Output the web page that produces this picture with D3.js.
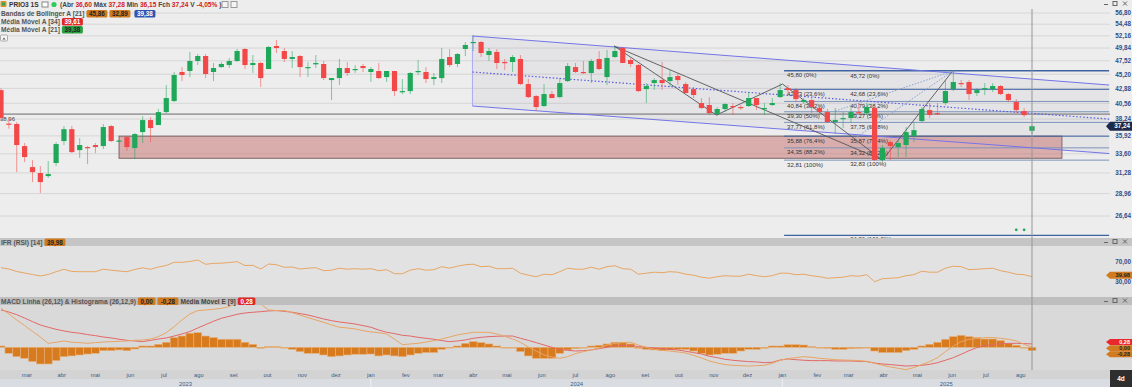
<!DOCTYPE html>
<html>
<head>
<meta charset="utf-8">
<script src="https://cdn.jsdelivr.net/npm/d3@7"></script>
<style>
body { margin: 0; background: #e6e6e6; }
svg { display: block; font-family: "Liberation Sans", Arial, sans-serif; }
</style>
</head>
<body>
<svg id="chart" width="1132" height="387"></svg>
<script>
// weekly candles PRIO3, Feb 2023 -> Aug 2025
const opens = [42.60,37.60,37.54,34.58,31.97,31.27,30.92,32.46,35.23,36.83, 34.06,34.45,34.71,34.58,37.26,35.23,35.75,34.32,36.43,38.10, 37.40,39.25,40.90,45.58,45.75,47.49,48.38,45.58,46.43,46.78, 47.49,49.66,46.78,47.14,46.09,50.22,49.29,47.85,48.38,46.26, 46.90,46.96,44.23,44.56,46.26,45.92,46.61,45.58,45.75,44.73, 45.75,42.30,42.45,45.58,45.58,44.40,44.56,48.20,46.96,49.66, 50.79,50.98,48.56,49.13,47.31,47.31,47.85,43.58,41.67,40.15, 41.98,41.51,44.06,46.43,45.58,45.41,47.85,44.73,48.20,49.85, 47.67,46.78,42.76,43.74,44.23,44.06,44.90,43.58,42.76,40.60, 40.30,38.96,39.70,40.15,40.00,40.15,41.36,39.70,40.30,41.51, 42.92,42.61,40.75,41.05,39.85,39.25,37.82,38.25,38.39,39.25, 39.10,39.85,32.82,35.10,34.45,34.71,35.89,37.96,39.55,39.10, 40.60,42.76,43.74,43.91,42.14,42.76,42.76,43.26,41.98,40.75, 39.40,36.60]
const highs = [42.90,38.40,37.82,34.97,32.82,32.09,32.70,35.10,37.26,37.26, 35.62,34.58,34.97,37.54,37.40,35.40,35.88,36.30,38.67,38.53, 39.70,43.42,45.58,46.43,49.13,48.74,48.74,47.14,47.31,48.03, 49.66,49.85,48.56,47.31,50.22,51.36,49.85,49.29,48.56,47.31, 48.56,47.49,44.56,47.85,47.31,46.78,46.96,46.43,47.14,45.75, 45.75,44.40,45.58,47.67,46.43,45.41,49.85,49.66,48.92,50.98, 52.33,51.17,49.85,49.66,47.85,48.56,48.56,44.40,41.83,43.58, 42.45,44.56,47.14,47.14,47.49,47.85,49.29,49.48,50.22,50.04, 48.03,46.96,43.74,44.56,47.31,45.92,45.24,43.91,43.10,41.36, 41.51,40.00,40.60,40.60,40.30,42.30,41.36,40.60,41.36,43.74, 43.42,42.92,41.36,41.36,40.00,39.70,39.85,39.25,40.00,40.60, 40.60,40.00,34.71,35.36,35.36,37.12,37.82,40.00,40.60,40.60, 44.23,45.72,44.23,44.23,42.92,43.74,43.74,43.42,42.14,41.20, 39.85,37.28]
const lows = [38.10,36.90,31.38,32.57,30.23,29.02,30.69,32.09,34.71,33.69, 33.07,32.33,33.69,34.19,35.10,35.10,33.94,32.94,34.97,35.10, 37.40,39.10,40.75,44.06,44.73,46.78,44.56,44.06,46.26,46.26, 47.31,46.09,45.41,43.10,46.09,48.92,47.31,46.26,44.73,44.73, 46.26,44.23,41.05,43.42,44.90,45.41,45.58,43.91,44.40,43.91, 41.67,41.98,41.98,45.07,43.74,43.42,43.74,46.43,46.43,48.38, 49.29,48.20,47.49,46.09,45.92,45.58,43.42,41.36,39.40,40.00, 41.36,41.36,43.91,45.41,45.24,43.74,45.92,43.42,48.03,47.14, 46.43,42.30,40.60,42.61,42.61,43.10,43.42,42.14,41.36,39.70, 38.82,38.67,39.25,38.82,39.55,40.00,39.55,38.82,40.15,41.36, 42.14,40.75,40.45,39.10,38.82,37.68,36.16,36.98,37.68,39.10, 38.82,32.70,32.57,32.82,33.19,33.19,35.10,37.82,38.39,38.82, 40.30,42.45,43.10,41.05,41.67,41.83,42.30,41.83,40.75,39.10, 38.53,36.15]
const closes = [38.40,37.50,34.71,33.19,31.38,30.23,31.15,34.84,36.83,33.81, 34.71,34.32,34.45,37.12,35.23,35.30,34.45,36.16,38.10,36.98, 39.25,41.36,45.07,45.07,47.49,48.38,45.24,46.26,46.96,47.49, 49.29,46.78,47.14,44.56,50.04,49.85,47.85,48.20,46.43,46.43, 47.14,44.56,44.56,46.26,45.41,46.09,46.26,46.09,44.56,45.75, 42.45,42.45,45.41,45.75,44.40,44.73,47.85,46.78,48.74,50.41, 50.98,48.92,49.29,47.14,47.14,48.20,43.58,41.51,40.00,41.98, 41.36,43.74,46.61,45.58,45.41,47.49,46.09,48.03,49.29,47.14, 46.96,42.45,43.26,44.23,43.74,44.73,44.23,42.14,41.83,39.85, 39.10,39.70,40.45,40.00,39.85,41.36,40.30,39.85,40.60,42.61, 42.61,41.20,41.05,40.00,39.25,37.82,38.10,38.39,39.25,39.10, 40.00,32.82,34.32,34.58,34.97,36.43,36.70,39.70,38.82,38.96, 42.45,43.91,43.58,41.98,42.61,42.92,43.26,41.98,41.05,39.55, 38.81,37.24]

const rsiValues = [58,55.4,50.4,47.4,44.4,41.4,44.4,50,54.8,50.4, 50,50,50,55,53,51.4,50,54.4,57.8,54.8, 59.4,62.4,68.8,68.8,70.4,73.4,64.8,66.8,67,68.4, 70,62.4,62.8,55.4,65.4,64,58.8,59.4,55.4,57, 58,52,53,57,55,56,55,56,52,54, 46,46,53,56,53,54,60,57,61,64, 65,60,61,56,56,57,47,43,40,45, 44,50,57,55,55,59,55,60,62,56, 55,45,47,49,48,50,49,45,43,39, 37,40,42,41,41,45,42,40,42,47, 47,44,45,42,40,37,38,39,42,41, 44,30,36,37,38,42,44,51,49,49, 57,61,60,54,55,56,57,52,49,45, 44,39.98]

const macdLine = [3.25,2.78,2.28,1.81,1.33,0.86,0.33,0.42,0.53,0.42, 0.39,0.33,0.39,0.44,0.47,0.50,0.53,0.58,0.61,0.69, 0.89,1.22,1.72,2.28,2.78,3.06,3.11,3.17,3.25,3.39, 3.67,4.17,4.08,3.61,3.11,3.06,3.06,2.89,2.69,2.47, 2.28,2.08,1.86,1.67,1.61,1.53,1.39,1.28,1.22,1.11, 0.67,0.22,0.28,0.33,0.44,0.56,0.69,0.86,1.03,1.14, 1.25,1.25,1.25,1.11,0.92,0.69,0.42,0.03,-0.31,-0.64, -0.81,-0.92,-0.78,-0.53,-0.36,-0.22,-0.06,0.19,0.33,0.39, 0.42,0.19,0.00,-0.17,-0.25,-0.31,-0.39,-0.47,-0.67,-0.89, -1.14,-1.31,-1.44,-1.50,-1.53,-1.56,-1.53,-1.50,-1.33,-1.08, -0.94,-0.86,-0.78,-0.83,-0.92,-0.97,-1.03,-1.06,-1.08,-1.11, -1.17,-1.33,-1.50,-1.64,-1.75,-1.86,-1.69,-1.44,-1.19,-0.86, -0.36,0.11,0.47,0.67,0.72,0.81,0.81,0.75,0.67,0.53, 0.25,0.00]
const macdSignal = [3.11,2.94,2.72,2.44,2.14,1.86,1.67,1.50,1.36,1.25, 1.17,1.06,0.97,0.86,0.78,0.67,0.58,0.53,0.47,0.58, 0.69,0.78,0.94,1.11,1.31,1.61,1.89,2.17,2.42,2.58, 2.75,2.86,2.92,2.97,3.03,3.06,3.00,2.92,2.81,2.69, 2.53,2.36,2.22,2.11,2.03,1.94,1.81,1.67,1.44,1.25, 1.14,1.00,0.94,0.83,0.75,0.67,0.56,0.47,0.53,0.61, 0.75,0.83,0.89,0.92,0.94,0.94,0.75,0.58,0.39,0.19, 0.00,-0.19,-0.25,-0.31,-0.28,-0.22,-0.11,0.00,0.11,0.17, 0.14,0.06,0.00,-0.06,-0.11,-0.17,-0.22,-0.33,-0.44,-0.56, -0.75,-0.86,-1.00,-1.08,-1.14,-1.19,-1.22,-1.28,-1.25,-1.06, -0.97,-1.03,-1.08,-1.11,-1.11,-1.11,-1.14,-1.14,-1.14,-1.17, -1.19,-1.31,-1.39,-1.44,-1.50,-1.56,-1.53,-1.50,-1.42,-1.28, -1.08,-0.86,-0.58,-0.28,-0.03,0.14,0.22,0.31,0.33,0.33, 0.31,0.28]
const macdHist = [0.11,-0.50,-0.78,-0.92,-1.19,-1.39,-1.39,-1.11,-0.78,-0.72, -0.64,-0.56,-0.50,-0.28,-0.28,-0.22,-0.28,-0.14,0.11,0.11, 0.25,0.42,0.81,0.94,1.17,1.22,0.94,0.81,0.67,0.67, 0.67,0.42,0.25,-0.08,0.06,0.06,0.00,-0.17,-0.36,-0.50, -0.50,-0.64,-0.78,-0.72,-0.64,-0.58,-0.58,-0.56,-0.72,-0.64, -0.72,-0.78,-0.64,-0.50,-0.44,-0.44,-0.17,-0.06,0.11,0.33, 0.47,0.39,0.28,0.11,0.00,-0.03,-0.36,-0.72,-0.92,-0.92, -0.92,-0.50,-0.22,-0.11,0.00,0.11,0.17,0.28,0.42,0.42, 0.28,-0.08,-0.17,-0.22,-0.28,-0.22,-0.17,-0.17,-0.31,-0.50, -0.64,-0.58,-0.50,-0.50,-0.31,-0.17,-0.17,-0.08,0.11,0.11, 0.22,0.22,0.19,0.06,0.00,-0.08,-0.17,-0.17,-0.11,-0.08, 0.00,-0.31,-0.44,-0.44,-0.44,-0.28,-0.17,0.11,0.25,0.42, 0.67,0.89,1.00,0.89,0.81,0.69,0.69,0.56,0.33,0.17, -0.06,-0.28]

const priceTicks = [56.80,54.48,52.16,49.84,47.52,45.20,42.88,40.56,38.24,35.92,33.60,31.28,28.96,26.64]
const monthNames = ["jan","fev","mar","abr","mai","jun","jul","ago","set","out","nov","dez"]

// fibonacci retracements (two tools, almost the same swing)
const fibPctLabels = ["0%","23,6%","38,2%","50%","61,8%","76,4%","88,2%","100%","161,8%"]
const fibLevelsA = [45.80,42.73,40.84,39.30,37.77,35.88,34.35,32.81,24.78]
const fibLevelsB = [45.72,42.68,40.79,39.27,37.75,35.87,34.32,32.83,24.86]

// drawings: [week index, price]
const channelUpper = [[59.9,52.13],[140.8,43.42]]
const channelMiddle = [[59.9,45.58],[140.8,38.24]]
const channelLower = [[59.9,40.15],[140.8,33.63]]
const zigzag = [[77.9,50.22],[90.9,38.82],[99.3,43.58],[112,32.82],[120.9,45.72]]
const trendAD = [[77.9,50.22],[112,32.82]]
const fanLines = [[[106,39.4],[120.9,45.72]],[[108.5,35.6],[120.9,45.72]]]
const supportZone = {from: 15, to: 134.8, top: 35.88, bottom: 33.04}
const levelLine = 38.96
const signalDots = [[129,25.3],[130,25.3]]

const svg = d3.select("#chart")
const plotRight = 1110
const mainTop = 9, mainBottom = 238
const rsiTop = 246, rsiBottom = 297
const macdTop = 305, macdBottom = 370

const dates = d3.timeMonday.range(new Date(2023, 1, 6), new Date(2025, 7, 12))
const candles = dates.map((d, i) => ({date: d, o: opens[i], h: highs[i], l: lows[i], c: closes[i], i: i}))

const x = d3.scaleTime().domain([dates[0], dates[dates.length - 1]]).range([1, 1032])
const step = x(dates[1]) - x(dates[0])
const xi = i => x(dates[0]) + i * step
const y = d3.scaleLog().domain([26.64, 56.80]).range([216, 13])
const yR = d3.scaleLinear().domain([30, 70]).range([281.7, 261.7])
const yM = d3.scaleLinear().domain([-1, 1]).range([359.3, 335.3])

const upCol = "#1fa85a", downCol = "#f24848"

// backgrounds
svg.append("rect").attr("x", 0).attr("y", 0).attr("width", 1132).attr("height", 387).attr("fill", "#e4e4e4")
svg.append("rect").attr("x", 0).attr("y", 0).attr("width", 1132).attr("height", mainBottom).attr("fill", "#ededed")
svg.append("rect").attr("x", 0).attr("y", rsiTop).attr("width", 1132).attr("height", rsiBottom - rsiTop).attr("fill", "#e2e2e2")
svg.append("rect").attr("x", 0).attr("y", macdTop).attr("width", 1132).attr("height", macdBottom - macdTop).attr("fill", "#d9d9d9")
svg.append("rect").attr("x", 0).attr("y", macdBottom).attr("width", 1132).attr("height", 17).attr("fill", "#d3d3d3")
svg.append("rect").attr("x", 0).attr("y", 379).attr("width", 1132).attr("height", 8).attr("fill", "#d9dde2")
svg.append("rect").attr("x", 0).attr("y", mainBottom).attr("width", 1132).attr("height", rsiTop - mainBottom).attr("fill", "#c5c5c5")
svg.append("rect").attr("x", 0).attr("y", rsiBottom).attr("width", 1132).attr("height", macdTop - rsiBottom).attr("fill", "#bebebe")

const defs = svg.append("defs")
const clip = (id, y0, y1) => defs.append("clipPath").attr("id", id)
    .append("rect").attr("x", 0).attr("y", y0).attr("width", plotRight).attr("height", y1 - y0)
clip("clipMain", mainTop, mainBottom)
clip("clipRsi", rsiTop, rsiBottom)
clip("clipMacd", macdTop, macdBottom)

const main = svg.append("g").attr("clip-path", "url(#clipMain)")

// grid
main.selectAll("line.grid")
    .data(priceTicks)
    .enter()
    .append("line")
    .attr("class", "grid")
    .attr("x1", 0).attr("x2", plotRight)
    .attr("y1", d => y(d)).attr("y2", d => y(d))
    .style("stroke", "#d6d6d6")

const pt = p => [xi(p[0]), y(p[1])]
const line = d3.line()

// channel
main.append("path")
    .attr("d", line([pt(channelUpper[0]), pt(channelUpper[1]), pt(channelLower[1]), pt(channelLower[0])]) + "Z")
    .style("fill", "rgba(110,110,150,0.07)")
main.append("line")
    .attr("x1", xi(channelUpper[0][0])).attr("x2", xi(channelUpper[0][0]))
    .attr("y1", y(channelUpper[0][1])).attr("y2", y(channelLower[0][1]))
    .style("stroke", "#a9a9f0")

// support zone
main.append("rect")
    .attr("x", xi(supportZone.from))
    .attr("y", y(supportZone.top))
    .attr("width", xi(supportZone.to) - xi(supportZone.from))
    .attr("height", y(supportZone.bottom) - y(supportZone.top))
    .style("fill", "rgba(196,96,96,0.45)")
    .style("stroke", "#7d6464")
    .style("stroke-width", 1)

// horizontal level
main.append("line")
    .attr("x1", 0).attr("x2", plotRight)
    .attr("y1", y(levelLine)).attr("y2", y(levelLine))
    .style("stroke", "#6a6a6a")
main.append("text")
    .attr("x", 0).attr("y", y(levelLine) + 6.5)
    .style("font-size", "6px").style("fill", "#444")
    .text("38,96")

// fibonacci lines
const fibStart = 99.5, fibEnd = 140.8
fibLevelsA.forEach((lv, k) => {
    main.append("line")
        .attr("x1", xi(fibStart)).attr("x2", xi(fibEnd))
        .attr("y1", y(lv)).attr("y2", y(lv))
        .style("stroke", k === 0 || k === 1 || k === 5 || k === 8 ? "#3f63a0" : "#7d93b8")
        .style("stroke-width", k === 0 || k === 8 ? 1.4 : 1)
    main.append("text")
        .attr("x", xi(fibStart) + 3).attr("y", y(lv) + 6.5)
        .style("font-size", "6px").style("fill", "#333")
        .text(`${d3.format(".2f")(lv).replace(".", ",")} (${fibPctLabels[k]})`)
})
fibLevelsB.forEach((lv, k) => {
    main.append("text")
        .attr("x", xi(107.9)).attr("y", y(lv) + 6.5)
        .style("font-size", "6px").style("fill", "#333")
        .text(`${d3.format(".2f")(lv).replace(".", ",")} (${fibPctLabels[k]})`)
})

// channel lines
main.append("path").attr("d", line(channelUpper.map(pt))).style("stroke", "#7474e8").style("fill", "none")
main.append("path").attr("d", line(channelLower.map(pt))).style("stroke", "#7474e8").style("fill", "none")
main.append("path").attr("d", line(channelMiddle.map(pt))).style("stroke", "#5a5ae0").style("fill", "none")
    .style("stroke-dasharray", "1.5,2").style("stroke-width", 1.2)

// trend lines
main.append("path").attr("d", line(zigzag.map(pt))).style("stroke", "#555").style("fill", "none").style("stroke-width", 0.9)
main.append("path").attr("d", line(trendAD.map(pt))).style("stroke", "#555").style("fill", "none").style("stroke-width", 0.9)
fanLines.forEach(f => {
    main.append("path").attr("d", line(f.map(pt))).style("stroke", "#8aa2d2").style("fill", "none")
        .style("stroke-dasharray", "1.5,1.5")
})

// candles
const cg = main.selectAll("g.candle")
    .data(candles)
    .enter()
    .append("g")
    .attr("class", "candle")
cg.append("line")
    .attr("x1", d => x(d.date)).attr("x2", d => x(d.date))
    .attr("y1", d => y(d.h)).attr("y2", d => y(d.l))
    .style("stroke", d => d.c >= d.o ? upCol : downCol)
    .style("stroke-opacity", 0.55)
cg.append("rect")
    .attr("x", d => x(d.date) - 2.6)
    .attr("width", 5.2)
    .attr("y", d => y(Math.max(d.o, d.c)))
    .attr("height", d => Math.max(1.2, Math.abs(y(d.o) - y(d.c))))
    .style("fill", d => d.c >= d.o ? upCol : downCol)

main.selectAll("circle.sig")
    .data(signalDots)
    .enter()
    .append("circle")
    .attr("cx", d => xi(d[0])).attr("cy", d => y(d[1])).attr("r", 1.4)
    .style("fill", "#1fa85a")

// price axis
svg.selectAll("text.pax")
    .data(priceTicks)
    .enter()
    .append("text")
    .attr("class", "pax")
    .attr("x", 1131).attr("y", d => y(d) + 2.3)
    .attr("text-anchor", "end")
    .style("font-size", "6.3px").style("font-weight", "bold").style("fill", "#2d4e8c")
    .text(d => d3.format(".2f")(d).replace(".", ","))

const ptag = (yy, txt, fill, col, h, fs) => {
    h = h || 9
    fs = fs || 6.3
    svg.append("path")
        .attr("d", `M1106,${yy} L1110,${yy - h / 2} L1132,${yy - h / 2} L1132,${yy + h / 2} L1110,${yy + h / 2} Z`)
        .style("fill", fill)
    svg.append("text").attr("x", 1130).attr("y", yy + fs * 0.36).attr("text-anchor", "end")
        .style("font-size", fs + "px").style("font-weight", "bold").style("fill", col).text(txt)
}
ptag(y(closes[closes.length - 1]), "37,24", "#1c2a4a", "#fff")

// RSI
const rsi = svg.append("g").attr("clip-path", "url(#clipRsi)")
rsi.append("path")
    .datum(rsiValues)
    .attr("d", d3.line().x((d, i) => xi(i)).y(d => yR(d)))
    .style("fill", "none").style("stroke", "#e8a564").style("stroke-width", 1)
svg.selectAll("text.rax")
    .data([70, 30])
    .enter()
    .append("text")
    .attr("x", 1131).attr("y", d => yR(d) + 2.3)
    .attr("text-anchor", "end")
    .style("font-size", "6.3px").style("font-weight", "bold").style("fill", "#2d4e8c")
    .text(d => d3.format(".2f")(d).replace(".", ","))
ptag(yR(rsiValues[rsiValues.length - 1]) - 1.5, "39,98", "#d27a20", "#222", 7, 5.8)

// MACD
const macd = svg.append("g").attr("clip-path", "url(#clipMacd)")
macd.selectAll("rect.hist")
    .data(macdHist)
    .enter()
    .append("rect")
    .attr("x", (d, i) => xi(i) - step / 2)
    .attr("width", step)
    .attr("y", d => Math.min(yM(d), yM(0)))
    .attr("height", d => Math.max(0.8, Math.abs(yM(d) - yM(0))))
    .style("fill", "#d87b1f")
    .style("stroke", "#e6b27c")
    .style("stroke-width", 0.6)
macd.append("path")
    .datum(macdSignal)
    .attr("d", d3.line().x((d, i) => xi(i)).y(d => yM(d)))
    .style("fill", "none").style("stroke", "#e46868").style("stroke-width", 1)
macd.append("path")
    .datum(macdLine)
    .attr("d", d3.line().x((d, i) => xi(i)).y(d => yM(d)))
    .style("fill", "none").style("stroke", "#e8a564").style("stroke-width", 1)
// stacked value tags, kept apart so they stay readable
ptag(yM(0.28) - 2, "0,28", "#e8282c", "#fff", 6, 5.5)
ptag(yM(0.28) + 4.2, "0,00", "#d27a20", "#222", 6, 5.5)
ptag(yM(0.28) + 10.4, "-0,28", "#d27a20", "#222", 6, 5.5)

// crosshair
svg.append("line")
    .attr("x1", x(dates[dates.length - 1])).attr("x2", x(dates[dates.length - 1]))
    .attr("y1", mainTop).attr("y2", macdBottom)
    .style("stroke", "#959595")

// time axis
const months = d3.timeMonth.range(new Date(2023, 2, 1), new Date(2025, 8, 1))
svg.selectAll("text.month")
    .data(months)
    .enter()
    .append("text")
    .attr("x", d => x(d)).attr("y", 377)
    .attr("text-anchor", "middle")
    .style("font-size", "5.8px").style("fill", "#3b5a8a")
    .text(d => monthNames[d.getMonth()])
const years = [2023, 2024, 2025]
years.forEach(yr => {
    const a = Math.max(0, x(new Date(yr, 0, 1)))
    const b = Math.min(plotRight, x(new Date(yr + 1, 0, 1)))
    svg.append("text").attr("x", (a + b) / 2).attr("y", 385.5).attr("text-anchor", "middle")
        .style("font-size", "5.8px").style("fill", "#3b5a8a").text(yr)
    if (a > 0) svg.append("line").attr("x1", a).attr("x2", a).attr("y1", 379).attr("y2", 387).style("stroke", "#eef0f3")
})
svg.append("rect").attr("x", 1110).attr("y", 370).attr("width", 22).attr("height", 17).attr("fill", "#2e2e2e")
svg.append("text").attr("x", 1121).attr("y", 381).attr("text-anchor", "middle")
    .style("font-size", "6.5px").style("font-weight", "bold").style("fill", "#fff").text("4d")

// window buttons
const winButtons = yy => {
    const g = svg.append("g").style("stroke", "#666").style("fill", "none")
    g.append("line").attr("x1", 1104).attr("x2", 1108).attr("y1", yy).attr("y2", yy)
    g.append("rect").attr("x", 1113).attr("y", yy - 3).attr("width", 4).attr("height", 4)
    g.append("path").attr("d", `M1123,${yy - 3} l4,4 M1127,${yy - 3} l-4,4`)
}
winButtons(4.5)
winButtons(242.5)
winButtons(301.5)

// legend tags
const tag = (tx, ty, txt, fill, col) => {
    const w = txt.length * 3.4 + 4
    svg.append("rect").attr("x", tx).attr("y", ty - 6).attr("width", w).attr("height", 7.5)
        .attr("rx", 1.5).style("fill", fill)
    svg.append("text").attr("x", tx + w / 2).attr("y", ty).attr("text-anchor", "middle")
        .style("font-size", "6.3px").style("font-weight", "bold").style("fill", col).text(txt)
    return tx + w + 2
}
const label = (tx, ty, txt, col) => {
    const t = svg.append("text").attr("x", tx).attr("y", ty)
        .style("font-size", "6.6px").style("font-weight", "bold").style("fill", col || "#555").text(txt)
    return tx + t.node().getComputedTextLength() + 2
}

// header
svg.append("rect").attr("x", 0.5).attr("y", 1).attr("width", 6).attr("height", 6).attr("rx", 1).style("fill", "#e0902a")
svg.append("rect").attr("x", 2).attr("y", 2.5).attr("width", 3).attr("height", 3).style("fill", "#3aa34a")
label(9, 7, "PRIO3 1S", "#333")
svg.append("rect").attr("x", 42).attr("y", 2).attr("width", 6).attr("height", 5).style("fill", "#fff").style("stroke", "#888")
svg.append("circle").attr("cx", 54).attr("cy", 4.5).attr("r", 2.6).style("fill", "#2ecc5a")
const head = svg.append("text").attr("x", 60).attr("y", 7).style("font-size", "6.6px").style("font-weight", "bold")
const headParts = [["(Abr ", "#444"], ["36,60", "#d42020"], [" Máx ", "#444"], ["37,28", "#d42020"], [" Min ", "#444"],
    ["36,15", "#d42020"], [" Fch ", "#444"], ["37,24", "#d42020"], [" V ", "#444"], ["-4,05%", "#d42020"], [" )", "#444"]]
headParts.forEach(p => head.append("tspan").style("fill", p[1]).text(p[0]))
svg.append("rect").attr("x", 222).attr("y", 1.5).attr("width", 6).attr("height", 6).style("fill", "#f4f4f4").style("stroke", "#999")
svg.append("rect").attr("x", 231).attr("y", 1.5).attr("width", 6).attr("height", 6).style("fill", "#f4f4f4").style("stroke", "#999")

let lx = label(1, 16, "Bandas de Bollinger A [21]")
lx = tag(lx, 16, "45,86", "#d07a20", "#222")
lx = tag(lx, 16, "32,89", "#d07a20", "#222")
tag(lx + 2, 16, "39,38", "#2f55b0", "#fff")
lx = label(1, 24, "Média Móvel A [34]")
tag(lx, 24, "39,61", "#e02828", "#fff")
lx = label(1, 32, "Média Móvel A [21]")
tag(lx, 32, "39,38", "#2aa040", "#222")
svg.append("rect").attr("x", 0.5).attr("y", 35).attr("width", 7).attr("height", 6).attr("rx", 1)
    .style("fill", "#f6f6f6").style("stroke", "#aaa")
svg.append("path").attr("d", "M2.5,39.5 L4,37.5 L5.5,39.5 Z").style("fill", "#555")

lx = label(1, 244.5, "IFR (RSI) [14]")
tag(lx, 244.5, "39,98", "#d07a20", "#222")

lx = label(1, 303.5, "MACD Linha (26,12) & Histograma (26,12,9)")
lx = tag(lx, 303.5, "0,00", "#d07a20", "#222")
lx = tag(lx, 303.5, "-0,28", "#d07a20", "#222")
lx = label(lx, 303.5, "Média Móvel E [9]", "#444")
tag(lx, 303.5, "0,28", "#e02828", "#fff")
</script>
</body>
</html>
